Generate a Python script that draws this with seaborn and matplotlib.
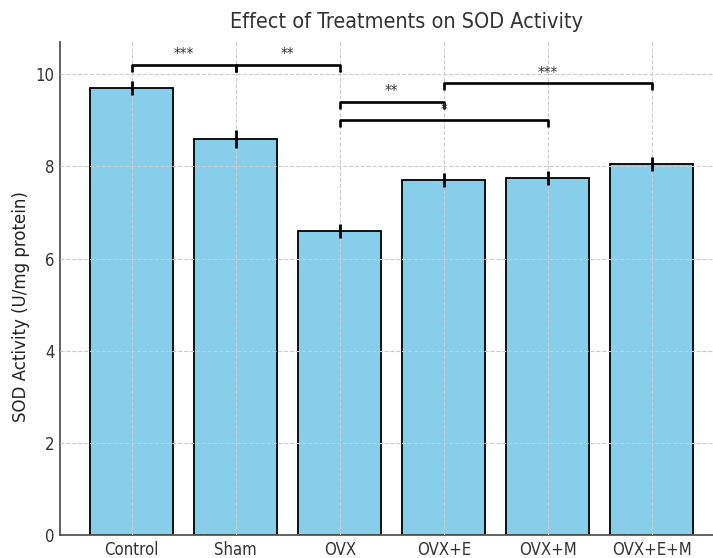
import matplotlib
matplotlib.use("Agg")
import matplotlib.pyplot as plt
from matplotlib import font_manager as fm
import seaborn as sns
import pandas as pd

# ---- data ----
groups = ["Control", "Sham", "OVX", "OVX+E", "OVX+M", "OVX+E+M"]
means = [9.7, 8.6, 6.6, 7.7, 7.75, 8.05]
errors = [0.15, 0.2, 0.15, 0.15, 0.15, 0.15]
yticks = [0, 2, 4, 6, 8, 10]
# significance brackets: (group a, group b, bracket height, label)
sig_a = ["Control", "Sham", "OVX", "OVX", "OVX+E"]
sig_b = ["Sham", "OVX", "OVX+E", "OVX+M", "OVX+E+M"]
sig_y = [10.2, 10.2, 9.4, 9.0, 9.8]
sig_lbl = ["***", "**", "**", "*", "***"]

sns.set_style("white")
plt.rcParams["font.family"] = ["DejaVu Sans"]

has_cond = any(f.name == "DejaVu Sans" and f.stretch not in ("normal", 500)
               for f in fm.fontManager.ttflist)
if has_cond:
    stretch = "condensed"
    title_fs, tick_fs, star_fs = 15.5, 12.0, 11.0
else:
    stretch = "normal"
    title_fs, tick_fs, star_fs = 14.2, 10.9, 10.0

df = pd.DataFrame({"group": groups, "mean": means})

fig = plt.figure(figsize=(7.13, 5.58), dpi=100)
ax = fig.add_axes([60 / 713, 23 / 558, 653 / 713, 493 / 558])

sns.barplot(data=df, x="group", y="mean", order=groups, color="#87CEEB",
            saturation=1, edgecolor="black", linewidth=1.3, width=0.8,
            errorbar=None, ax=ax, zorder=1)
pos = {g: i for i, g in enumerate(groups)}
ax.errorbar([pos[g] for g in groups], means, yerr=errors, fmt="none",
            ecolor="black", elinewidth=2.0, capsize=0, zorder=3)

for a, b, y, lbl in zip(sig_a, sig_b, sig_y, sig_lbl):
    x1, x2 = pos[a], pos[b]
    h = 0.15
    ax.plot([x1, x1, x2, x2], [y - h, y, y, y - h], color="black", lw=1.9,
            zorder=4, solid_capstyle="butt")
    ax.text((x1 + x2) / 2, y + 0.06, lbl, ha="center", va="bottom",
            fontsize=star_fs, color="#333333", fontstretch=stretch, zorder=5)

ax.set_xlim(-0.69, 5.59)
ax.set_ylim(0, 10.7)
ax.set_yticks(yticks)
ax.set_xlabel("")
ax.set_ylabel("SOD Activity (U/mg protein)", fontsize=12, color="#222222")
ax.yaxis.set_label_coords(-0.046, 0.464)
ax.set_title("Effect of Treatments on SOD Activity", fontsize=title_fs,
             color="#333333", pad=10, fontstretch=stretch, x=0.530)

ax.grid(True, linestyle="--", color="#cccccc", linewidth=0.8, zorder=2)
ax.set_axisbelow(False)
for sp in ["top", "right"]:
    ax.spines[sp].set_visible(False)
for sp in ["left", "bottom"]:
    ax.spines[sp].set_color("#555555")
    ax.spines[sp].set_linewidth(1.3)
ax.tick_params(axis="both", direction="in", length=4, width=1,
               color="#555555", labelcolor="#333333", labelsize=tick_fs, pad=4)
for lab in ax.get_xticklabels() + ax.get_yticklabels():
    lab.set_fontstretch(stretch)

fig.savefig("out.png", dpi=100)
